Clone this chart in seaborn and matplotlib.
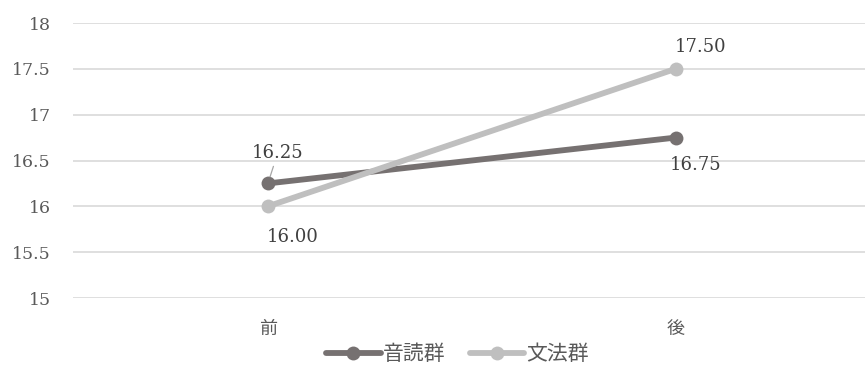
import matplotlib
matplotlib.use("Agg")
import matplotlib.pyplot as plt
import seaborn as sns
import pandas as pd
from matplotlib.lines import Line2D

# Data
phases = ["前", "後"]
ondoku = [16.25, 16.75]
bunpou = [16.00, 17.50]
series_names = ["音読群", "文法群"]
y_ticks = [15, 15.5, 16, 16.5, 17, 17.5, 18]

sns.set_theme(style="white")
plt.rcParams["font.family"] = ["DejaVu Serif", "Noto Sans CJK JP"]

df = pd.DataFrame({
    "phase": phases * 2,
    "score": ondoku + bunpou,
    "group": [series_names[0]] * 2 + [series_names[1]] * 2,
})
df["x"] = [0, 1, 0, 1]

colors = {series_names[0]: "#767171", series_names[1]: "#BFBFBF"}

fig = plt.figure(figsize=(8.67, 3.69), dpi=100)
ax = fig.add_axes([73 / 867, 1 - 298 / 369, 1 - 73 / 867 - 0.002, (298 - 23) / 369])

sns.lineplot(data=df, x="x", y="score", hue="group", palette=colors,
             marker="o", markersize=10, markeredgewidth=0, linewidth=4.2,
             ax=ax, legend=False, zorder=3)

ax.set_xlim(-0.478, 1.465)
ax.set_ylim(15, 18)
ax.set_yticks(y_ticks)
ax.set_yticklabels([f"{t:g}" for t in y_ticks])
ax.set_xticks([0, 1])
ax.set_xticklabels(phases, family=["Noto Sans CJK JP"], fontsize=13)
ax.set_xlabel("")
ax.set_ylabel("")
ax.grid(axis="y", color="#D9D9D9", linewidth=1.2)
ax.set_axisbelow(True)
for s in ax.spines.values():
    s.set_visible(False)
ax.tick_params(axis="both", length=0, colors="#595959")
ax.tick_params(axis="y", pad=16, labelsize=12.5)
ax.tick_params(axis="x", pad=16)

# Value labels
lab_kw = dict(fontsize=13, color="#404040", ha="center", va="center",
              textcoords="offset points")
ax.annotate(f"{ondoku[0]:.2f}", xy=(0, ondoku[0]), xytext=(7, 21.6), **lab_kw,
            arrowprops=dict(arrowstyle="-", color="#A6A6A6", lw=0.9,
                            shrinkA=0.5, shrinkB=5))
ax.annotate(f"{ondoku[1]:.2f}", xy=(1, ondoku[1]), xytext=(14.4, -20), **lab_kw)
ax.annotate(f"{bunpou[0]:.2f}", xy=(0, bunpou[0]), xytext=(18, -22), **lab_kw)
ax.annotate(f"{bunpou[1]:.2f}", xy=(1, bunpou[1]), xytext=(18, 16), **lab_kw)

# Legend
handles = [Line2D([], [], color=colors[n], lw=4.2, marker="o", markersize=10,
                  markeredgewidth=0) for n in series_names]
leg = fig.legend(handles, series_names, loc="lower center", ncol=2,
                 bbox_to_anchor=(0.528, -0.04), frameon=False,
                 prop={"family": ["Noto Sans CJK JP"], "size": 15},
                 handlelength=2.6, handletextpad=0.1, columnspacing=1.2)
for t in leg.get_texts():
    t.set_color("#595959")

fig.savefig("out.png", dpi=100, facecolor="white")
